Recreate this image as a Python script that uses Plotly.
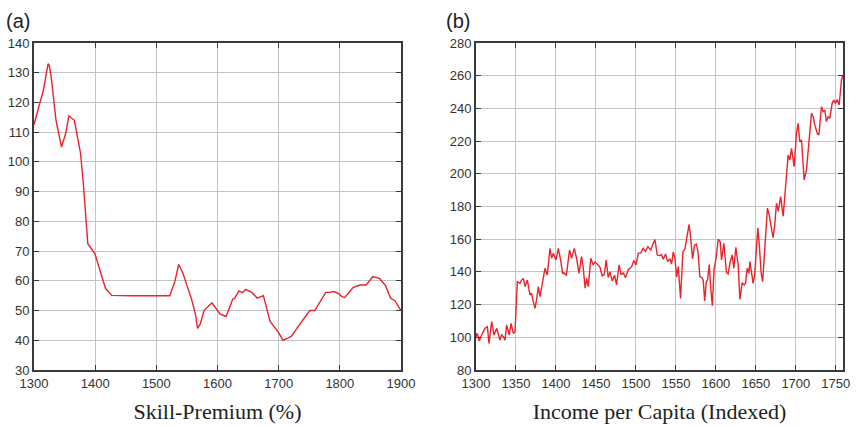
import plotly.graph_objects as go

# (a) Skill premium, percent
skill_years = [1300, 1305.4, 1309.8, 1315, 1323, 1325, 1328, 1336, 1345, 1352, 1357, 1366,
               1376, 1380.5, 1386, 1388, 1399.5, 1407.6, 1417, 1427, 1440, 1460, 1480, 1500,
               1522, 1525, 1530, 1536.5, 1543, 1549.5, 1557.6, 1564, 1567.4, 1572, 1578, 1591,
               1604, 1614, 1625, 1628, 1635, 1641, 1646, 1656, 1660, 1665, 1675, 1686, 1700,
               1707, 1714, 1721, 1732, 1751, 1759, 1777, 1783, 1790, 1799, 1803, 1808, 1822,
               1833, 1843, 1854, 1865, 1875, 1883, 1890, 1900]
skill_values = [112.5, 117, 120, 123.7, 133, 132.5, 128.7, 114, 105, 109.7, 115.5, 114,
                103, 93, 78.4, 72.5, 69.2, 63.8, 57.4, 55.1, 55, 55, 55, 55,
                55, 56.8, 59.5, 65.5, 62.8, 58.8, 53.8, 48.7, 44, 45.6, 50, 52.6,
                48.9, 48, 53.9, 54.1, 56.6, 56, 57.1, 56.1, 55.3, 54.2, 55, 46.3, 42.6,
                40, 40.6, 41.4, 44.7, 50, 50, 56.1, 56.1, 56.4, 55.6, 54.7, 54.4, 57.8,
                58.6, 58.6, 61.4, 60.8, 58.3, 54.1, 53.3, 50]

# (b) Income per capita, indexed
income_years = [1300, 1301, 1302.5, 1304, 1307, 1309, 1311.3, 1314.2, 1316.3, 1319.6, 1322.5,
                1325.8, 1328, 1330, 1332, 1334.2, 1336.3, 1338.3, 1341.7, 1343.8, 1346.7,
                1348.8, 1351.7, 1355, 1357, 1359.2, 1361.3, 1364.2, 1367.5, 1369.6, 1371.5,
                1373.8, 1376, 1378, 1380, 1383.3, 1386.3, 1389.2, 1392.5, 1394.6, 1396.7,
                1400, 1402.9, 1405.8, 1408.3, 1410, 1413, 1417, 1419.6, 1422.9, 1425.8,
                1428.8, 1432, 1434, 1436.5, 1438.5, 1440.5, 1443.5, 1446.5, 1449, 1452,
                1455, 1457.9, 1460.5, 1462.8, 1465.4, 1467.5, 1470.4, 1473.3, 1475.8, 1478.8,
                1481.5, 1484.2, 1487, 1490.4, 1494.6, 1497.5, 1500, 1503, 1506, 1509, 1512,
                1515, 1518.5, 1521.7, 1523.8, 1526.7, 1529, 1532, 1534.2, 1537.1, 1539.6,
                1542.5, 1544.6, 1546.7, 1548.8, 1551, 1553, 1555.8, 1558.8, 1561.3, 1563.3,
                1566.5, 1568.5, 1570.8, 1573.3, 1575.5, 1577.5, 1580, 1582.5, 1584.2, 1586,
                1588, 1589.6, 1591.7, 1593.6, 1595.6, 1597.7, 1600.5, 1602.9, 1605.4, 1607.1,
                1610, 1613.3, 1615.4, 1617.5, 1620.4, 1622.5, 1625, 1627.9, 1630, 1632.9,
                1635.4, 1637.1, 1639.2, 1641.3, 1642.5, 1644.5, 1646.5, 1648.5, 1650.5,
                1652.5, 1654.5, 1656.5, 1658.5, 1660.5, 1662.5, 1664.5, 1666.7, 1669.6,
                1671.5, 1673.5, 1675.8, 1678, 1681, 1684.2, 1686.5, 1688.3, 1690.4, 1692.5,
                1694.6, 1697.9, 1700.8, 1702.9, 1705, 1707.1, 1710.4, 1713.3, 1716.3, 1719.6,
                1721.7, 1723.8, 1727.1, 1728.8, 1732.1, 1734.2, 1736.3, 1738.3, 1740.4,
                1742.5, 1745.4, 1747.5, 1749.6, 1751.7, 1754.2, 1757.1, 1759]
income_values = [100, 102.5, 101, 97.7, 101.4, 103.5, 105.5, 106.5, 96.3, 109.6, 101.4,
                 105.5, 101, 98.3, 101.5, 100.4, 98.3, 107.5, 101.4, 108.5, 102.4,
                 103.4, 134, 133, 135, 136, 131, 135, 125.9, 126.9, 122,
                 117.7, 124, 131, 124.8, 135, 142.2, 138.1, 154.4, 148.3, 151.4,
                 147.3, 154.4, 147.3, 139.1, 139.5, 137.7, 153.4, 148.3, 154.4, 148.3,
                 139.1, 149.3, 143, 130, 136, 131, 148.3, 144.5, 146, 144.2,
                 143, 137.5, 138.5, 147.2, 136.5, 140, 134.5, 138, 132, 144.2,
                 138.5, 139.3, 136.5, 141.3, 143.2, 147, 144.2, 151.5, 151.5, 154.4, 152.5,
                 155.4, 153.4, 157.5, 159.8, 150.3, 150, 150.5, 147.7, 151, 146.3,
                 148, 144.8, 152.2, 148.3, 137, 143.2, 123.8, 152.4, 154, 160.5,
                 169, 161, 148, 156.3, 157, 153, 137, 136.5, 135, 122.3,
                 134, 135.1, 144.5, 130, 119.3, 141.5, 149, 160, 158.5, 147.3,
                 157.5, 139.5, 138.7, 145.3, 150.4, 142.2, 155, 144.2, 123.2, 133.4,
                 132, 133, 142.2, 139.1, 146.3, 140, 133, 138, 150,
                 167, 155, 140, 134, 150, 168, 179, 174.8, 166.6,
                 161, 168, 182, 177, 186, 174, 190, 200.3, 211.5, 208.4,
                 215.6, 204.4, 224.7, 230.9, 219.6, 220.7, 196.2, 202.3, 220.7, 237,
                 234.9, 229.8, 224.3, 223.7, 241.1, 238, 239, 231.9, 234.9,
                 233.9, 243.1, 245.1, 243.1, 245.5, 242.1, 257.4, 260.4]

LINE = "#e8232b"
GRID = "#c4c4c4"
AXIS = "#3a3a3a"
TICKFONT = dict(family="Liberation Sans, Arial, sans-serif", size=13, color="#333333")
TITLEFONT = dict(family="Liberation Serif, Times New Roman, serif", size=22, color="#222222")

fig = go.Figure()
fig.add_trace(go.Scatter(x=skill_years, y=skill_values, mode="lines",
                         line=dict(color=LINE, width=1.4), xaxis="x", yaxis="y",
                         showlegend=False))
fig.add_trace(go.Scatter(x=income_years, y=income_values, mode="lines",
                         line=dict(color=LINE, width=1.4), xaxis="x2", yaxis="y2",
                         showlegend=False))

common = dict(showgrid=True, gridcolor=GRID, gridwidth=1.3, showline=True,
              linecolor=AXIS, linewidth=1.8, mirror="ticks", ticks="inside",
              ticklen=5, tickwidth=1.3, tickcolor=AXIS, tickfont=TICKFONT,
              zeroline=False, automargin=False)

y_top = 1 - 43 / 426
y_bot = 1 - 370 / 426

fig.update_layout(
    width=860, height=426,
    margin=dict(l=0, r=0, t=0, b=0),
    paper_bgcolor="white", plot_bgcolor="white",
    xaxis=dict(domain=[34 / 860, 401 / 860], range=[1300, 1900], dtick=100,
               title=dict(text="Skill-Premium (%)", font=TITLEFONT, standoff=14),
               anchor="y", **common),
    yaxis=dict(domain=[y_bot, y_top], range=[30, 140], dtick=10, anchor="x", **common),
    xaxis2=dict(domain=[476 / 860, 843 / 860], range=[1300, 1759], dtick=50,
                title=dict(text="Income per Capita (Indexed)", font=TITLEFONT, standoff=14),
                anchor="y2", **common),
    yaxis2=dict(domain=[y_bot, y_top], range=[80, 280], dtick=20, anchor="x2", **common),
    annotations=[
        dict(text="(a)", x=4 / 860, y=1 - 8 / 426, xref="paper", yref="paper",
             xanchor="left", yanchor="top", showarrow=False,
             font=dict(family="Liberation Sans, Arial, sans-serif", size=20, color="#222222")),
        dict(text="(b)", x=444 / 860, y=1 - 8 / 426, xref="paper", yref="paper",
             xanchor="left", yanchor="top", showarrow=False,
             font=dict(family="Liberation Sans, Arial, sans-serif", size=20, color="#222222")),
    ],
)

fig.write_html("out.html")
